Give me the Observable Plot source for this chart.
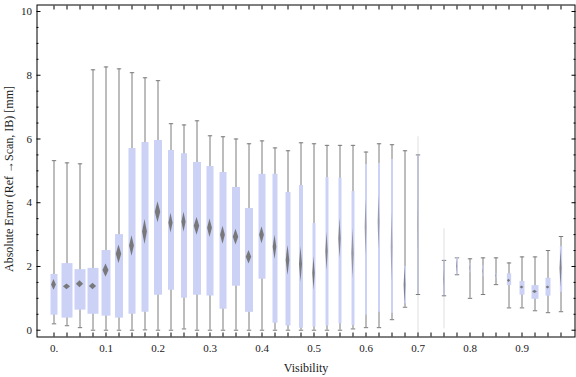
<!DOCTYPE html>
<html><head><meta charset="utf-8">
<script src="https://cdn.jsdelivr.net/npm/d3@7"></script>
<script src="https://cdn.jsdelivr.net/npm/@observablehq/plot@0.6"></script>
<style>body{margin:0;background:#fff}</style>
</head><body><div id="chart"></div>
<script>
// Visibility bins (0.725 has no data)
const visibility = [0,0.025,0.05,0.075,0.1,0.125,0.15,0.175,0.2,0.225,0.25,0.275,0.3,0.325,0.35,0.375,0.4,0.425,0.45,0.475,0.5,0.525,0.55,0.575,0.6,0.625,0.65,0.675,0.7,0.75,0.775,0.8,0.825,0.85,0.875,0.9,0.925,0.95,0.975];
const whiskerLow  = [0.2,0.14,0.08,0,0,0,0,0.01,0,0,0.04,0,0,0,0,0,0,0,0,0,0,0,0,0.04,0.08,0.08,0.33,0.72,1.12,1.08,1.74,1.0,1.12,1.43,0.7,0.7,0.61,0.55,0.58];
const quartile1   = [0.47,0.38,0.63,0.5,0.44,0.38,0.5,0.56,1.1,1.25,1.0,1.1,1.07,0.66,1.38,0.56,1.6,0.22,0.13,0.06,0.1,0.13,0.2,0.15,0.47,0.56,0.53,0.83,1.12,1.08,1.74,1.8,1.68,1.62,1.4,1.1,0.97,1.07,1.19];
const medians     = [1.42,1.36,1.44,1.37,1.87,2.38,2.64,3.08,3.7,3.36,3.39,3.26,3.2,2.98,2.92,2.29,2.98,2.6,2.19,2.06,1.78,2.48,2.87,2.4,3.23,3.39,2.6,1.4,3.3,1.6,2.0,1.95,1.85,1.7,1.55,1.34,1.2,1.34,1.93];
const quartile3   = [1.75,2.09,1.9,1.94,2.5,3.0,5.7,5.89,5.95,5.64,5.54,5.26,5.14,4.95,4.48,3.82,4.89,4.89,4.32,4.54,3.35,4.79,4.77,4.35,5.2,5.24,5.36,2.0,5.5,2.19,2.27,2.1,2.03,1.78,1.77,1.53,1.4,1.63,2.62];
const whiskerHigh = [5.32,5.25,5.22,8.17,8.26,8.2,8.08,7.92,7.83,6.48,6.44,6.57,6.1,6.07,6.0,5.85,5.94,5.72,5.63,5.88,5.85,5.8,5.8,5.8,5.59,5.85,5.82,5.63,5.5,2.19,2.27,2.24,2.27,2.27,2.11,2.3,2.3,2.5,2.94];
// half-extent of the median confidence diamond (mm)
const medianSpread = [0.17,0.09,0.11,0.1,0.21,0.29,0.32,0.39,0.33,0.31,0.31,0.28,0.29,0.28,0.25,0.21,0.27,0.38,0.47,0.55,0.52,0.6,0.63,0.78,0.89,0.84,1.1,0.6,0.9,0.3,0.2,0.1,0.1,0.08,0.05,0.05,0.05,0.05,0.6];
// relative sample weight (shown as box width)
const boxWeight = [70,110,110,110,90,80,70,70,80,60,60,80,70,70,80,80,70,50,50,40,30,30,30,30,20,20,20,20,10,10,15,10,10,10,43,50,70,50,23];
// faint full-range traces of sparse bins
const faintVisibility = [0.7, 0.75];
const faintLow = [-0.1, 0.04];
const faintHigh = [6.07, 3.18];

const yMajorTicks = [0,2,4,6,8,10];
const yMinorTicks = d3.range(0, 10.01, 0.5).filter(d => d % 2 !== 0);
const xLabelTicks = [0,0.1,0.2,0.3,0.4,0.5,0.6,0.7,0.8,0.9];
const xTickLabels = ["0.","0.1","0.2","0.3","0.4","0.5","0.6","0.7","0.8","0.9"];
const xBinTicks = d3.range(40).map(i => i * 0.025);
const yTitle = "Absolute Error (Ref \u2192Scan, IB) [mm]";
const xTitle = "Visibility";

const W = 576, H = 377;
const mL = 36.5, mR = 1.5, mT = 4.5, mB = 40.5;
const xDomain = [-17 / 520, -17 / 520 + 538 / 520];
const yDomain = [-0.213, 10.204];
const pxPerX = (W - mR - mL) / (xDomain[1] - xDomain[0]);
const widthPx = d3.scaleLinear([0, 110], [0, 11]);

const rows = visibility.map((v, i) => ({
  v, lo: whiskerLow[i], q1: quartile1[i], med: medians[i], q3: quartile3[i],
  hi: whiskerHigh[i], ci: medianSpread[i], w: boxWeight[i]
}));
const faint = faintVisibility.map((v, i) => ({v, lo: faintLow[i], hi: faintHigh[i]}));

const diamonds = rows.flatMap((r, i) => {
  const bw = widthPx(r.w);
  const hw = (bw >= 2 ? 0.3 * bw + 0.3 : 0.2 * bw) / pxPerX;
  const op = Math.min(0.95, 0.5 / r.ci);
  return [
    {i, y: r.med - r.ci, x1: r.v, x2: r.v, op},
    {i, y: r.med, x1: r.v - hw, x2: r.v + hw, op},
    {i, y: r.med + r.ci, x1: r.v, x2: r.v, op}
  ];
});

const capSymbol = {draw(ctx, size) { const r = Math.sqrt(size / Math.PI); ctx.moveTo(-r, 0); ctx.lineTo(r, 0); }};
const gray = "#7a7a7a";
const boxFill = "#ccd2f6";

const chart = Plot.plot({
  width: W, height: H,
  marginLeft: mL, marginRight: mR, marginTop: mT, marginBottom: mB,
  style: {fontFamily: "'Liberation Serif','Times New Roman',serif", fontSize: "11px", color: "#1a1a1a", background: "#fff"},
  x: {domain: xDomain, axis: null},
  y: {domain: yDomain, axis: null},
  marks: [
    Plot.ruleX(faint, {x: "v", y1: "lo", y2: "hi", stroke: "#efefef", strokeWidth: 2}),
    Plot.ruleX(rows, {x: "v", y1: "lo", y2: "hi", stroke: gray, strokeWidth: 1}),
    Plot.dot(rows, {x: "v", y: "hi", symbol: capSymbol, r: 2.2, stroke: gray, fill: "none", strokeWidth: 1}),
    Plot.dot(rows, {x: "v", y: "lo", symbol: capSymbol, r: 2.2, stroke: gray, fill: "none", strokeWidth: 1}),
    Plot.ruleX(rows, {x: "v", y1: "q1", y2: "q3", stroke: boxFill, strokeWidth: d => widthPx(d.w)}),
    Plot.areaX(diamonds, {y: "y", x1: "x1", x2: "x2", z: "i", fill: "#737373", fillOpacity: "op"}),
    Plot.axisY(yMajorTicks, {anchor: "left", tickSize: -4, tickPadding: 9, tickFormat: d => String(d), label: null, stroke: "black"}),
    Plot.axisY(yMinorTicks, {anchor: "left", tickSize: -2, tickFormat: () => "", label: null, stroke: "black"}),
    Plot.axisY(yMajorTicks, {anchor: "right", tickSize: -4, tickFormat: () => "", label: null, stroke: "black"}),
    Plot.axisY(yMinorTicks, {anchor: "right", tickSize: -2, tickFormat: () => "", label: null, stroke: "black"}),
    Plot.axisX(xBinTicks, {anchor: "bottom", tickSize: -4, tickFormat: () => "", label: null, stroke: "black"}),
    Plot.axisX(xBinTicks, {anchor: "top", tickSize: -4, tickFormat: () => "", label: null, stroke: "black"}),
    Plot.axisX(xLabelTicks, {anchor: "bottom", tickSize: 0, tickPadding: 7, tickFormat: d => xTickLabels[xLabelTicks.indexOf(d)], label: null}),
    Plot.frame({stroke: "black", strokeWidth: 1}),
    Plot.text([yTitle], {text: d => d, frameAnchor: "left", dx: -28, dy: 8, rotate: -90, fontSize: 12, textAnchor: "middle", lineAnchor: "middle", fill: "#1a1a1a"}),
    Plot.text([xTitle], {text: d => d, frameAnchor: "bottom", dy: 31, fontSize: 12, textAnchor: "middle", lineAnchor: "middle", fill: "#1a1a1a"})
  ]
});
document.getElementById("chart").appendChild(chart);
</script>
</body></html>
